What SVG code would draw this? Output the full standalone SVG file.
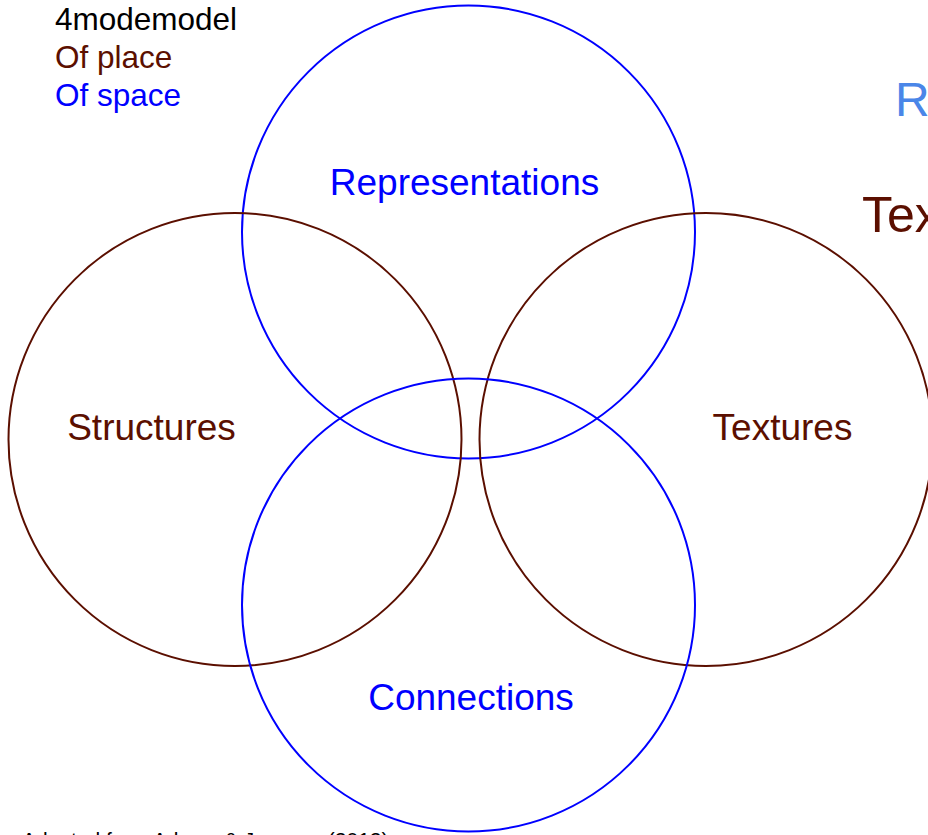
<svg xmlns="http://www.w3.org/2000/svg" width="928" height="835" viewBox="0 0 928 835">
<style>
text{font-family:"Liberation Sans",Arial,sans-serif}
.c{fill:none;stroke-width:2}
.blue{stroke:#0000ff}
.brown{stroke:#5b0f00}
.tb{fill:#0000ff}
.tr{fill:#5b0f00}
.lbl{font-size:37px;text-anchor:middle}
</style>
<rect width="928" height="835" fill="#ffffff"/>
<g id="legend">
<text x="55" y="30" font-size="31.5" fill="#000000">4modemodel</text>
<text x="55" y="68" font-size="31.5" class="tr">Of place</text>
<text x="55" y="106" font-size="31.5" class="tb">Of space</text>
</g>
<g id="connectors"></g>
<g id="representations">
<circle class="c blue" cx="468.5" cy="232" r="226.5"/>
<text class="lbl tb" x="464.5" y="195">Representations</text>
</g>
<g id="structures">
<circle class="c brown" cx="235" cy="439.5" r="226.5"/>
<text class="lbl tr" x="151.5" y="440">Structures</text>
</g>
<g id="textures">
<circle class="c brown" cx="706" cy="439.5" r="226.5"/>
<text class="lbl tr" x="782.5" y="440">Textures</text>
</g>
<g id="connections">
<circle class="c blue" cx="468.5" cy="605" r="226.5"/>
<text class="lbl tb" x="471" y="710">Connections</text>
</g>
<g id="offpage">
<text x="895" y="116" font-size="48" fill="#4a86e8">R</text>
<text x="862" y="232" font-size="50" class="tr">Tex</text>
<text x="22" y="847" font-size="21" fill="#000000">Adapted from Adams &amp; Jansson (2012)</text>
</g>
</svg>
